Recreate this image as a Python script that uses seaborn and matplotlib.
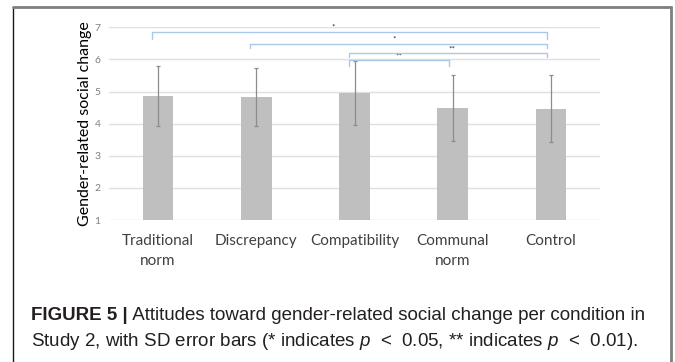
import matplotlib
matplotlib.use("Agg")
import matplotlib.pyplot as plt
import seaborn as sns
import pandas as pd
from matplotlib.lines import Line2D

# ---- data ----
conditions = ["Traditional\nnorm", "Discrepancy", "Compatibility", "Communal\nnorm", "Control"]
means = [4.86, 4.83, 4.96, 4.50, 4.47]
sds = [0.93, 0.91, 1.00, 1.03, 1.03]
y_ticks = [1, 2, 3, 4, 5, 6, 7]
# significance brackets: (from index, to index, bracket height, label)
brackets = [(0, 4, 6.86, "*"), (1, 4, 6.48, "*"), (2, 4, 6.19, "**"), (2, 3, 5.97, "**")]
ylabel = "Gender-related social change"
caption_bold = "FIGURE 5 |"
caption_rest1 = " Attitudes toward gender-related social change per condition in"
caption_line2 = "Study 2, with SD error bars (* indicates $p$  <  0.05, ** indicates $p$  <  0.01)."

sns.set_theme(style="white")
plt.rcParams["font.family"] = ["Lato", "DejaVu Sans"]
plt.rcParams["mathtext.fontset"] = "custom"
plt.rcParams["mathtext.it"] = "Liberation Sans:italic"
plt.rcParams["mathtext.rm"] = "Liberation Sans"

df = pd.DataFrame({"condition": conditions, "mean": means, "sd": sds})

fig = plt.figure(figsize=(6.75, 3.62), dpi=100)
ax = fig.add_axes([109 / 675, 1 - 220 / 362, 491 / 675, (220 - 27.3) / 362])

sns.barplot(data=df, x="condition", y="mean", color="#bfbfbf", saturation=1,
            width=0.31, errorbar=None, ax=ax, zorder=2)
for p in ax.patches:
    p.set_edgecolor("none")
xs = [p.get_x() + p.get_width() / 2 for p in ax.patches]
ax.errorbar(xs, df["mean"], yerr=df["sd"], fmt="none", ecolor="#8c8c8c",
            elinewidth=0.9, capsize=1.5, capthick=0.9, zorder=3)

ax.set_ylim(1, 7)
ax.set_xlim(-0.5, 4.5)
ax.set_yticks(y_ticks)
for y in y_ticks:
    ax.axhline(y, color="#e0e0e0", lw=1, zorder=1)
for s in ax.spines.values():
    s.set_visible(False)
ax.tick_params(axis="y", length=0, labelsize=7.5, labelcolor="#7f7f7f", pad=6)
ax.tick_params(axis="x", length=0, labelsize=11, labelcolor="#404040", pad=10)
for lbl in ax.get_xticklabels():
    lbl.set_linespacing(1.55)
ax.set_xlabel("")
ax.set_ylabel(ylabel, fontsize=11.5, color="#000000", labelpad=2)

# brackets
leg = [0.23, 0.13, 0.10, 0.17]
star_dx = [-0.17, -0.05, 0.04, 0.0]
for (i, j, h, lab), lg, dx in zip(brackets, leg, star_dx):
    x0 = xs[i] - 0.06
    x1 = xs[j] - 0.04
    ax.plot([x0, x0, x1, x1], [h - lg, h, h, h - lg], color="#a9c8ea", lw=1,
            clip_on=False, zorder=4)
    ax.text((x0 + x1) / 2 + dx, h + 0.04, lab,
            ha="center", va="bottom", fontsize=6, color="#333333", clip_on=False)

# frame
fig.add_artist(Line2D([13 / 675, 13 / 675], [0, 1 - 7 / 362], color="#1a1a1a", lw=1))
fig.add_artist(Line2D([13 / 675, 671 / 675], [1 - 7 / 362, 1 - 7 / 362], color="#7f7f7f", lw=2))
fig.add_artist(Line2D([671 / 675, 671 / 675], [0, 1 - 7 / 362], color="#7f7f7f", lw=2))

# caption
cap_kw = dict(fontsize=13.5, color="#231f20", family=["Liberation Sans", "DejaVu Sans"])
t1 = fig.text(31 / 675, 1 - 320 / 362, caption_bold, fontweight="bold", va="baseline", **cap_kw)
fig.canvas.draw()
bb = t1.get_window_extent(fig.canvas.get_renderer())
fig.text(bb.x1 / 675, 1 - 320 / 362, caption_rest1, va="baseline", **cap_kw)
fig.text(31 / 675, 1 - 346 / 362, caption_line2, va="baseline", **cap_kw)

fig.savefig("out.png", dpi=100)
